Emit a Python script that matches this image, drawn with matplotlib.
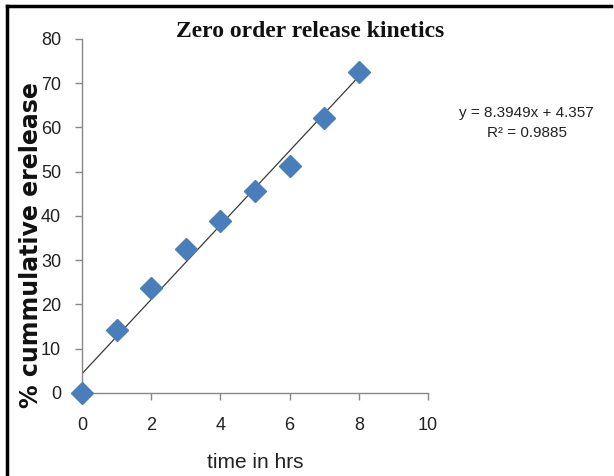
import matplotlib.pyplot as plt
from matplotlib.lines import Line2D

# release data
time_hrs = [0, 1, 2, 3, 4, 5, 6, 7, 8]
cum_release = [0, 14.2, 23.7, 32.5, 38.9, 45.6, 51.3, 62.1, 72.5]

# linear trendline
slope = 8.3949
intercept = 4.357
r2 = 0.9885

xticks = [0, 2, 4, 6, 8, 10]
yticks = [0, 10, 20, 30, 40, 50, 60, 70, 80]

sans = ['Liberation Sans', 'DejaVu Sans']
gray = '#878787'

fig = plt.figure(figsize=(6.14, 4.76), dpi=100)
ax = fig.add_axes([0.1336, 0.1744, 0.5635, 0.7437])

trend_x = [time_hrs[0], time_hrs[-1]]
trend_y = [slope * v + intercept for v in trend_x]
ax.plot(trend_x, trend_y, color='#3a3a3a', lw=0.9, zorder=2)
ax.plot(time_hrs, cum_release, 'D', color='#4a7ebb', ms=11, mec='#4a7ebb',
        clip_on=False, zorder=3)

ax.set_xlim(0, 10)
ax.set_ylim(0, 80)
ax.set_xticks(xticks)
ax.set_yticks(yticks)
ax.set_xticklabels([str(v) for v in xticks], family=sans, fontsize=13, color='#222222')
ax.set_yticklabels([str(v) for v in yticks], family=sans, fontsize=13, color='#222222')
ax.tick_params(axis='both', direction='out', length=5, width=1, color=gray)
ax.tick_params(axis='x', pad=12)
ax.tick_params(axis='y', pad=10)
for s in ['top', 'right']:
    ax.spines[s].set_visible(False)
for s in ['left', 'bottom']:
    ax.spines[s].set_color(gray)
    ax.spines[s].set_linewidth(1)

ax.set_xlabel('time in hrs', family=sans, fontsize=15, color='#222222', labelpad=14)
ax.set_ylabel('% cummulative erelease', family='DejaVu Sans',
              fontsize=17, fontweight='bold', color='#111111')
ax.yaxis.set_label_coords(-0.114, 0.418)

fig.text(0.505, 0.933, 'Zero order release kinetics', family=['Liberation Serif', 'DejaVu Serif'],
         fontsize=17, fontweight='bold', ha='center', va='center', color='#111111')

fig.text(0.858, 0.762, 'y = %.4fx + %.3f' % (slope, intercept), family=sans,
         fontsize=11, ha='center', va='center', color='#222222')
fig.text(0.858, 0.72, 'R² = %.4f' % r2, family=sans,
         fontsize=11, ha='center', va='center', color='#222222')

# outer frame edges
fig.add_artist(Line2D([0.0115, 0.0115], [0.0, 0.988], transform=fig.transFigure, color='black', lw=2.5))
fig.add_artist(Line2D([0.0115, 0.995], [0.988, 0.988], transform=fig.transFigure, color='black', lw=2.5))

fig.savefig('out.png', dpi=100)
